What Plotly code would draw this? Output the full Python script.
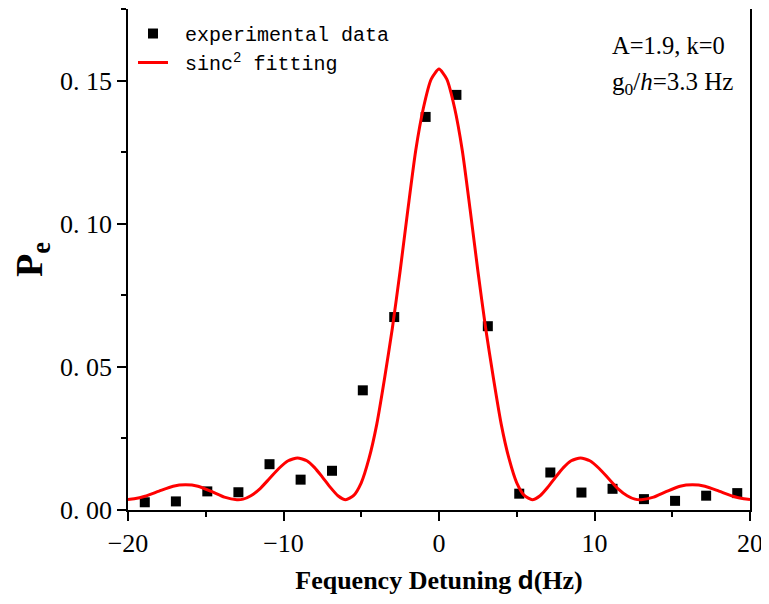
import plotly.graph_objects as go

exp_x = [-18.92, -16.92, -14.9, -12.9, -10.9, -8.9, -6.88, -4.9, -2.88, -0.86,
         1.12, 3.14, 5.16, 7.16, 9.16, 11.16, 13.18, 15.18, 17.18, 19.18]
exp_y = [0.0027, 0.0030, 0.0065, 0.0062, 0.0160, 0.0106, 0.0137, 0.0418, 0.0674, 0.1373,
         0.1450, 0.0642, 0.0057, 0.0131, 0.0061, 0.0074, 0.0038, 0.0032, 0.0050, 0.0059]

# fitted curve
fit_x = [-20, -19.6, -18.9, -18.0, -17.1, -16.3, -15.5, -14.6, -13.8, -13.0, -12.6, -12.1,
         -11.5, -10.9, -10.3, -9.7, -9.1, -8.5, -8.0, -7.5, -7.0, -6.5, -6.0,
         -5.5, -5.0, -4.5, -4.0, -3.5, -3.0, -2.5, -2.0, -1.5, -1.0, -0.5, 0.0,
         0.5, 1.0, 1.5, 2.0, 2.5, 3.0, 3.5, 4.0, 4.5, 5.0, 5.5, 6.0,
         6.5, 7.0, 7.5, 8.0, 8.5, 9.1, 9.7, 10.3, 10.9, 11.5, 12.1, 12.6, 13.0,
         13.8, 14.6, 15.5, 16.3, 17.1, 18.0, 18.9, 19.6, 20]
fit_y = [0.0037, 0.0039, 0.0048, 0.0066, 0.0083, 0.0088, 0.0083, 0.0064, 0.0045, 0.0036,
         0.0038, 0.0050, 0.0075, 0.0110, 0.0145, 0.0172, 0.0182, 0.0172, 0.0148, 0.0115,
         0.0080, 0.0050, 0.0036,
         0.0050, 0.0095, 0.0180, 0.0300, 0.0460, 0.0635, 0.0835, 0.1050, 0.1255, 0.1405,
         0.1505, 0.1540,
         0.1505, 0.1405, 0.1255, 0.1050, 0.0835, 0.0635, 0.0460, 0.0300, 0.0180, 0.0095,
         0.0050, 0.0036,
         0.0050, 0.0080, 0.0115, 0.0148, 0.0172, 0.0182, 0.0172, 0.0145, 0.0110, 0.0075,
         0.0050, 0.0038, 0.0036,
         0.0045, 0.0064, 0.0083, 0.0088, 0.0083, 0.0066, 0.0048, 0.0039, 0.0037]

y_ticks = [0.0, 0.05, 0.10, 0.15]
y_tick_labels = ["0. 00", "0. 05", "0. 10", "0. 15"]
x_ticks = [-20, -10, 0, 10, 20]
x_tick_labels = ["\u221220", "\u221210", "0", "10", "20"]

fig = go.Figure()
fig.add_trace(go.Scatter(
    x=exp_x, y=exp_y, mode="markers", name="\u00a0experimental data",
    marker=dict(symbol="square", size=10, color="black"),
))
fig.add_trace(go.Scatter(
    x=fit_x, y=fit_y, mode="lines", name="\u00a0sinc<sup>2</sup> fitting",
    line=dict(color="#ff0000", width=3, shape="spline", smoothing=0.6),
))

fig.update_layout(
    width=761, height=596,
    margin=dict(l=120, r=19, t=1, b=94),
    paper_bgcolor="white", plot_bgcolor="white",
    showlegend=True,
    legend=dict(x=0.008, y=0.99, xanchor="left", yanchor="top",
                bgcolor="rgba(0,0,0,0)",
                font=dict(family="Liberation Mono", size=20, color="black"),
                tracegroupgap=0),
    xaxis=dict(
        range=[-20, 20], tickvals=x_ticks, ticktext=x_tick_labels,
        showgrid=False, zeroline=False, automargin=False,
        showline=True, linecolor="black", linewidth=1.5,
        ticks="outside", ticklen=9, tickwidth=1.5, tickcolor="black",
        minor=dict(dtick=5, ticks="outside", ticklen=5, tickwidth=1.5, tickcolor="black"),
        tickfont=dict(family="Liberation Serif", size=26, color="black"),
        title=dict(text="<b>Fequency Detuning </b><span style='font-family:Liberation Sans'><b>d</b></span><b>(Hz)</b>",
                   font=dict(family="Liberation Serif", size=26, color="black"), standoff=14),
    ),
    yaxis=dict(
        range=[0, 0.175], tickvals=y_ticks, ticktext=y_tick_labels,
        showgrid=False, zeroline=False, automargin=False,
        showline=True, linecolor="black", linewidth=1.5, mirror=True,
        ticks="outside", ticklen=9, tickwidth=1.5, tickcolor="black",
        ticklabelstandoff=0,
        minor=dict(dtick=0.025, ticks="outside", ticklen=5, tickwidth=1.5, tickcolor="black"),
        tickfont=dict(family="Liberation Serif", size=26, color="black"),
        title=dict(text="<b>P<sub>e</sub></b>",
                   font=dict(family="Liberation Serif", size=38, color="black"), standoff=10),
    ),
    annotations=[
        dict(xref="paper", yref="paper", x=0.963, y=0.928, xanchor="right", yanchor="middle",
             text="A=1.9, k=0", showarrow=False,
             font=dict(family="Liberation Serif", size=24.5, color="black")),
        dict(xref="paper", yref="paper", x=0.976, y=0.852, xanchor="right", yanchor="middle",
             text="g<sub>0</sub>/<i>h</i>=3.3 Hz", showarrow=False,
             font=dict(family="Liberation Serif", size=25, color="black")),
    ],
)

fig.write_html("out.html")
